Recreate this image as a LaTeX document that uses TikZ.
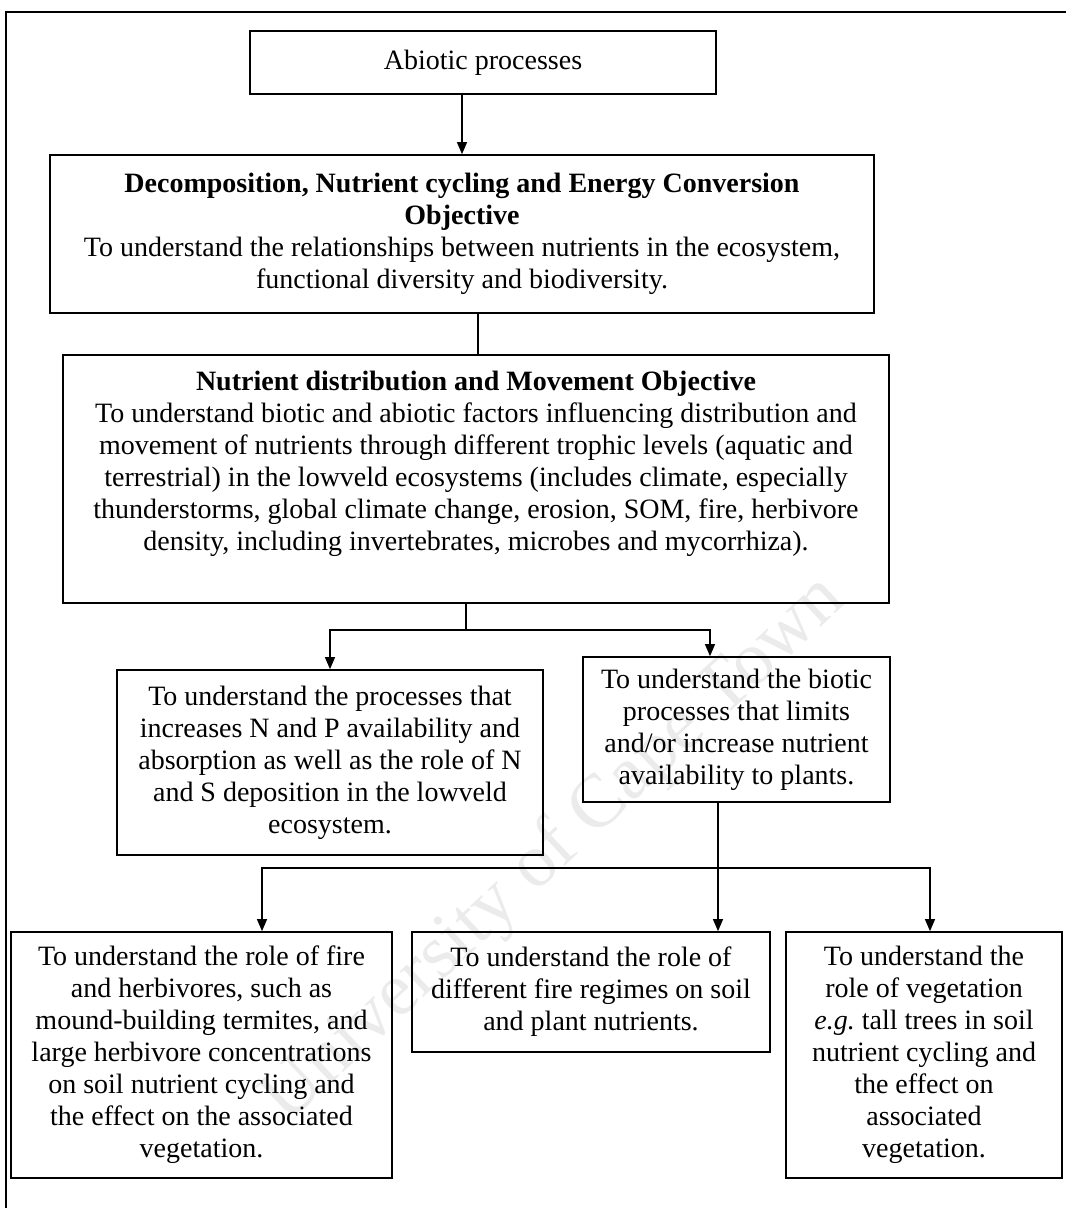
\documentclass[tikz,border=0pt]{standalone}
\usepackage{fontspec}
\setmainfont{Liberation Serif}
\usetikzlibrary{arrows.meta}
\tikzset{
  box/.style={draw, align=center, inner sep=0pt},
  wh/.style 2 args={minimum width=#1*0.45pt, minimum height=#2*0.45pt},
  arr/.style={-{Triangle[width=4.5pt,length=5.5pt]}},
}
\begin{document}
\begin{tikzpicture}[x=0.45pt,y=-0.45pt,line width=0.7pt,font=\fontsize{12.6}{14.4}\selectfont]
\useasboundingbox (0,0) rectangle (1066,1208);
% watermark
\node (wm) at (555,850) [rotate=43, text=gray!16, font=\fontsize{34}{36}\selectfont] {University of Cape Town};
% frame
\draw (1066,12) -- (6,12) -- (6,1208);
% boxes
\node (abio) at (483,62.5) [box, wh={466}{63}] {Abiotic processes};
\node (decomp) at (462,234) [box, wh={824}{158}] {\textbf{Decomposition, Nutrient cycling and Energy Conversion}\\
  \textbf{Objective}\\
  To understand the relationships between nutrients in the ecosystem,\\
  functional diversity and biodiversity.};
\node (nutri) at (476,479) [box, wh={826}{248}] {};
\node (nutritxt) at (476,370) [below, align=center, inner sep=0pt] {\textbf{Nutrient distribution and Movement Objective}\\
  To understand biotic and abiotic factors influencing distribution and\\
  movement of nutrients through different trophic levels (aquatic and\\
  terrestrial) in the lowveld ecosystems (includes climate, especially\\
  thunderstorms, global climate change, erosion, SOM, fire, herbivore\\
  density, including invertebrates, microbes and mycorrhiza).};
\node (procs) at (330,762.5) [box, wh={426}{185}] {To understand the processes that\\
  increases N and P availability and\\
  absorption as well as the role of N\\
  and S deposition in the lowveld\\
  ecosystem.};
\node (biot) at (736.5,729.5) [box, wh={307}{145}] {To understand the biotic\\
  processes that limits\\
  and/or increase nutrient\\
  availability to plants.};
\node (fire) at (201.5,1055) [box, wh={381}{246}] {To understand the role of fire\\
  and herbivores, such as\\
  mound-building termites, and\\
  large herbivore concentrations\\
  on soil nutrient cycling and\\
  the effect on the associated\\
  vegetation.};
\node (regime) at (591,992) [box, wh={358}{120}] {To understand the role of\\
  different fire regimes on soil\\
  and plant nutrients.};
\node (veg) at (924,1055) [box, wh={276}{246}] {To understand the\\
  role of vegetation\\
  \textit{e.g.}\ tall trees in soil\\
  nutrient cycling and\\
  the effect on\\
  associated\\
  vegetation.};
% branch points
\coordinate (s1) at (478,0);
\coordinate (b1) at (466,630);
\coordinate (a2) at (710,0);
\coordinate (b2) at (718,868);
\coordinate (a3) at (262,0);
\coordinate (a4) at (930,0);
% connectors
\draw[arr] (abio.south -| decomp.north) -- (decomp.north);
\draw (decomp.south -| s1) -- (nutri.north -| s1);
\draw (nutri.south -| b1) -- (b1);
\draw[arr] (b1) -| (procs.north);
\draw[arr] (b1) -| (biot.north -| a2);
\draw[arr] (biot.south -| b2) -- (regime.north -| b2);
\draw[arr] (b2) -| (fire.north -| a3);
\draw[arr] (b2) -| (veg.north -| a4);
\end{tikzpicture}
\end{document}
